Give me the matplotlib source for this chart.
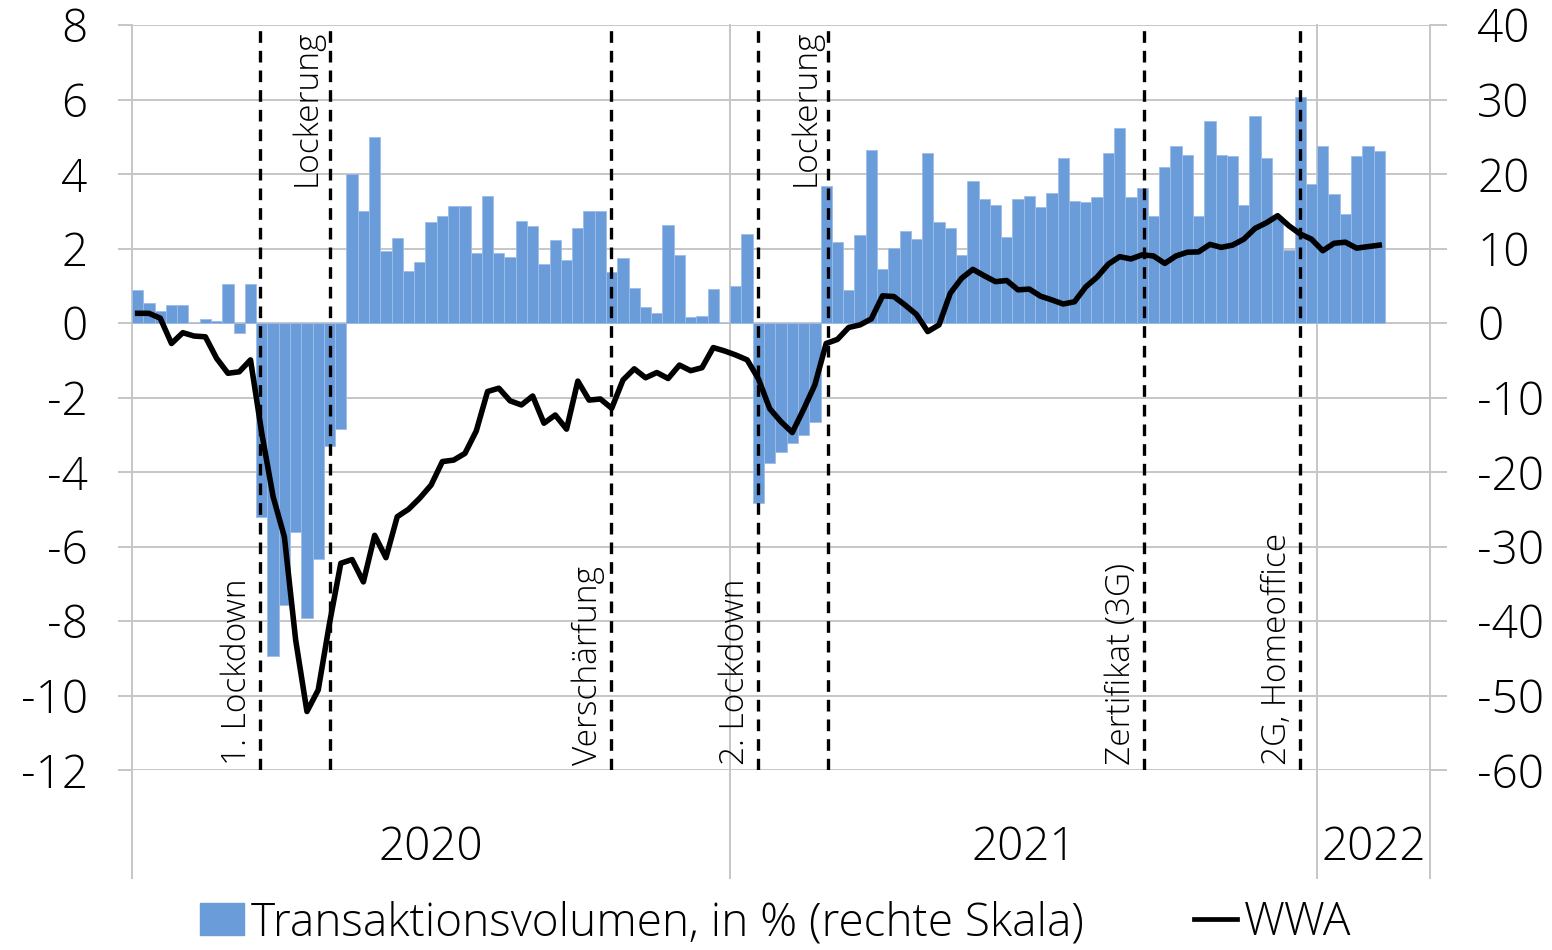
import numpy as np
import matplotlib.pyplot as plt
import matplotlib.transforms as mtransforms
from matplotlib.patches import Patch
from matplotlib.lines import Line2D

plt.rcParams['font.family'] = ['Open Sans', 'DejaVu Sans']
plt.rcParams['font.weight'] = 'light'
plt.rcParams['axes.unicode_minus'] = False

# weekly values, Jan 2020 - Feb 2022
transaktionen = [4.4, 2.7, 1.6, 2.4, 2.4, 0.0, 0.6, 0.3, 5.2, -1.3, 5.2,
                 -26.1, -44.7, -37.8, -28.1, -39.6, -31.7, -16.5, -14.2,
                 20.0, 15.1, 24.9, 9.6, 11.4, 7.0, 8.2, 13.6, 14.4, 15.7, 15.7, 9.4, 17.0, 9.4, 8.9, 13.7, 13.0, 7.9, 11.1,
                 8.5, 12.7, 15.0, 15.0, 6.8, 8.7, 4.7, 2.2, 1.3, 13.2, 9.1, 0.8, 1.0, 4.6, 0.0, 5.0, 11.9,
                 -24.2, -18.8, -17.3, -16.1, -15.1, -13.3,
                 18.4, 10.9, 4.4, 11.8, 23.2, 7.2, 10.1, 12.4, 11.3, 22.8, 13.6, 12.7, 9.1,
                 19.0, 16.6, 15.8, 11.6, 16.7, 17.1, 15.6, 17.5, 22.1, 16.4, 16.2, 16.9, 22.8, 26.2, 16.9, 18.1, 14.4, 20.9, 23.7,
                 22.6, 14.4, 27.1, 22.5, 22.4, 15.8, 27.8, 22.2, 14.0, 9.8, 30.4, 18.6, 23.7, 17.3, 14.6, 22.4, 23.8, 23.1]

wwa = [0.26, 0.26, 0.13, -0.55, -0.26, -0.35, -0.37, -0.95, -1.35, -1.31, -0.99,
       -2.96, -4.66, -5.74, -8.51, -10.43, -9.85, -8.06, -6.45,
       -6.35, -6.95, -5.7, -6.3, -5.2, -5.0, -4.7, -4.35, -3.72, -3.68, -3.5, -2.9,
       -1.84, -1.75, -2.09, -2.2, -1.96, -2.69, -2.47, -2.85, -1.56, -2.07, -2.04, -2.29,
       -1.53, -1.23, -1.47, -1.33, -1.49, -1.13, -1.28, -1.2, -0.66, -0.75, -0.86, -0.99,
       -1.5, -2.3, -2.65, -2.94, -2.32, -1.66, -0.55, -0.44, -0.12, -0.05, 0.11, 0.73,
       0.71, 0.48, 0.23, -0.23, -0.05, 0.8, 1.2, 1.44, 1.27, 1.11, 1.14, 0.89, 0.91,
       0.72, 0.62, 0.51, 0.57, 0.97, 1.23, 1.58, 1.78, 1.72, 1.83, 1.8, 1.6, 1.8,
       1.9, 1.91, 2.11, 2.03, 2.09, 2.25, 2.54, 2.69, 2.88, 2.61, 2.39, 2.25, 1.94,
       2.14, 2.17, 2.01, 2.05, 2.09]

n_weeks = 115
years = ['2020', '2021', '2022']
year_bounds = [-0.5, 52.5, 104.5, 114.5]

events = ['1. Lockdown', 'Lockerung', 'Verschärfung', '2. Lockdown', 'Lockerung', 'Zertifikat (3G)', '2G, Homeoffice']
event_pos = [10.8, 17.0, 41.9, 55.0, 61.2, 89.2, 103.0]
event_top = [False, True, False, False, True, False, False]

blue = '#6a9cda'
grey = '#c6c6c6'
fs = 33

fig = plt.figure(figsize=(15.52, 9.5), dpi=100)
ax = fig.add_axes([132 / 1552, 180 / 950, 1298 / 1552, 745 / 950])
ax2 = ax.twinx()
ax.set_zorder(ax2.get_zorder() + 1)
ax.patch.set_visible(False)

# bars on right scale
x_bar = np.arange(len(transaktionen))
ax2.bar(x_bar, transaktionen, width=1.0, color=blue, edgecolor='#9dbde8', linewidth=0.6, zorder=2)
ax2.set_ylim(-60, 40)
ax2.set_yticks(np.arange(-60, 41, 10))
ax2.set_axisbelow(True)
ax2.yaxis.grid(True, color=grey, linewidth=1.4)

# WWA line on left scale
x_line = np.arange(len(wwa))
ax.plot(x_line, wwa, color='black', linewidth=4.0, solid_joinstyle='round', zorder=4)
ax.set_ylim(-12, 8)
ax.set_yticks(np.arange(-12, 9, 2))
ax.set_xlim(-0.5, n_weeks - 0.5)
ax.set_xticks([])

# event markers
for name, pos, top in zip(events, event_pos, event_top):
    ax.plot([pos, pos], [-12, 8], color='black', linewidth=2.4, linestyle=(0, (3.5, 2.4)), zorder=3)
    off = mtransforms.offset_copy(ax.transData, fig=fig, x=-6, y=-5 if top else 5, units='dots')
    ax.text(pos, 8 if top else -12, name, rotation=90, transform=off,
            ha='right', va='top' if top else 'bottom', fontsize=24)

for a in (ax, ax2):
    for s in a.spines.values():
        s.set_visible(False)
ax.tick_params(axis='y', length=10, width=1.4, color=grey, pad=22, labelsize=fs)
ax2.tick_params(axis='y', length=12, width=1.4, color=grey, pad=22, labelsize=fs)

# year separators and labels
trans = mtransforms.blended_transform_factory(ax.transData, ax.transAxes)
for b in year_bounds:
    ax2.plot([b, b], [1, -0.145], transform=trans, color=grey, linewidth=1.4, clip_on=False, zorder=1)
for i, yr in enumerate(years):
    ax.text((year_bounds[i] + year_bounds[i + 1]) / 2, -0.105, yr, transform=trans,
            ha='center', va='center', fontsize=fs)

handles = [Patch(facecolor=blue, edgecolor=blue),
           Line2D([0], [0], color='black', linewidth=3.4)]
fig.legend(handles, ['Transaktionsvolumen, in % (rechte Skala)', 'WWA'],
           loc='center', bbox_to_anchor=(0.5, 0.028), ncol=2, frameon=False, fontsize=33,
           handlelength=0.95, handletextpad=0.15, columnspacing=2.4)

fig.savefig('out.png', dpi=100)
